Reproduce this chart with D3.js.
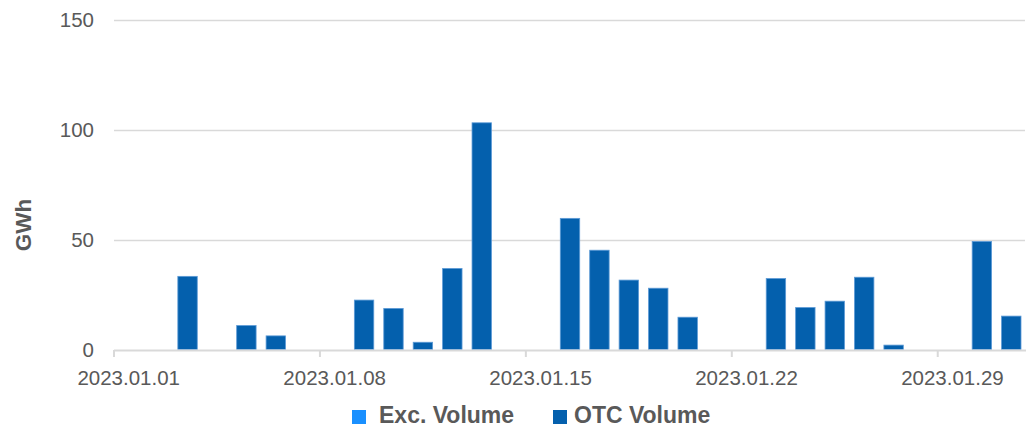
<!DOCTYPE html>
<html>
<head>
<meta charset="utf-8">
<script src="https://cdn.jsdelivr.net/npm/d3@7"></script>
<style>
  body { margin: 0; background: #fff; }
  svg { font-family: "Liberation Sans", Arial, sans-serif; }
</style>
</head>
<body>
<div id="chart"></div>
<script>
// daily dates of January 2023
const days = d3.range(1, 32).map(d => `2023.01.${String(d).padStart(2, '0')}`);

// Exc. Volume is empty for the whole month
const excVolume = days.map(() => 0);

const otcVolume = [
    0, 0, 33.3, 0, 10.9, 6.2, 0, 0, 22.5, 18.7,
    3.3, 36.9, 103.2, 0, 0, 59.7, 45.2, 31.6, 27.9, 14.7,
    0, 0, 32.3, 19.1, 22.0, 32.9, 2.0, 0, 0, 49.2,
    15.2
];

const yTicks = [0, 50, 100, 150];
const xTickLabels = ['2023.01.01', '2023.01.08', '2023.01.15', '2023.01.22', '2023.01.29'];

const seriesNames = ['Exc. Volume', 'OTC Volume'];
const seriesColors = ['#1a90ff', '#0460ad'];

const width = 1033;
const height = 428;
const margin = { top: 20, right: 7, bottom: 78, left: 114 };

const svg = d3.select('#chart')
    .append('svg')
    .attr('width', width)
    .attr('height', height);

const x = d3.scaleBand()
    .domain(days)
    .range([margin.left, 1026])
    .paddingInner(0.34)
    .paddingOuter(0.17);

const y = d3.scaleLinear()
    .domain([0, 150])
    .range([349.5, margin.top]);

// gridlines
svg.append('g')
    .selectAll('line')
    .data(yTicks.filter(t => t > 0))
    .enter().append('line')
    .attr('x1', margin.left)
    .attr('x2', 1025)
    .attr('y1', d => Math.round(y(d)) + 0.5)
    .attr('y2', d => Math.round(y(d)) + 0.5)
    .attr('stroke', '#d9d9d9')
    .attr('stroke-width', 1.3);

// y tick labels
svg.append('g')
    .selectAll('text')
    .data(yTicks)
    .enter().append('text')
    .attr('x', 94)
    .attr('y', d => y(d) + 7)
    .attr('text-anchor', 'end')
    .attr('font-size', '20.5px')
    .attr('fill', '#595959')
    .text(d => d);

// stacked bars
const stackData = days.map((d, i) => ({ day: d, exc: excVolume[i], otc: otcVolume[i] }));
const stacked = d3.stack().keys(['exc', 'otc'])(stackData);

svg.append('g')
    .selectAll('g')
    .data(stacked)
    .enter().append('g')
    .attr('fill', (d, i) => seriesColors[i])
    .selectAll('rect')
    .data(d => d.filter(v => v[1] - v[0] > 0))
    .enter().append('rect')
    .attr('x', d => x(d.data.day))
    .attr('width', x.bandwidth())
    .attr('y', d => y(d[1]))
    .attr('height', d => y(d[0]) - y(d[1]))
    .attr('stroke', '#5d9ad6')
    .attr('stroke-width', 0.8);

// x axis line and ticks
const edge = x.step() * x.paddingOuter();
svg.append('line')
    .attr('x1', margin.left)
    .attr('x2', 1026)
    .attr('y1', 350.5)
    .attr('y2', 350.5)
    .attr('stroke', '#d9d9d9')
    .attr('stroke-width', 2);

// tick marks sit on the left edge of the category, labels on its centre
const tickG = svg.append('g')
    .selectAll('g')
    .data(xTickLabels)
    .enter().append('g')
    .attr('transform', d => `translate(${x(d) - edge},0)`);

tickG.append('line')
    .attr('y1', 350)
    .attr('y2', 357)
    .attr('stroke', '#d9d9d9')
    .attr('stroke-width', 2);

tickG.append('text')
    .attr('x', x.step() / 2)
    .attr('y', 385)
    .attr('text-anchor', 'middle')
    .attr('font-size', '20.5px')
    .attr('fill', '#595959')
    .text(d => d);

// y axis title
svg.append('text')
    .attr('transform', 'translate(31,225) rotate(-90)')
    .attr('text-anchor', 'middle')
    .attr('font-size', '22.5px')
    .attr('font-weight', 'bold')
    .attr('fill', '#595959')
    .text('GWh');

// legend
const legendX = [352, 553];
const legendGap = [13, 7];
const legend = svg.append('g')
    .selectAll('g')
    .data(seriesNames)
    .enter().append('g')
    .attr('transform', (d, i) => `translate(${legendX[i]},410)`);

legend.append('rect')
    .attr('width', 14)
    .attr('height', 14)
    .attr('fill', (d, i) => seriesColors[i]);

legend.append('text')
    .attr('x', (d, i) => 14 + legendGap[i])
    .attr('y', 13)
    .attr('font-size', '23px')
    .attr('font-weight', 'bold')
    .attr('fill', '#595959')
    .text(d => d);
</script>
</body>
</html>
